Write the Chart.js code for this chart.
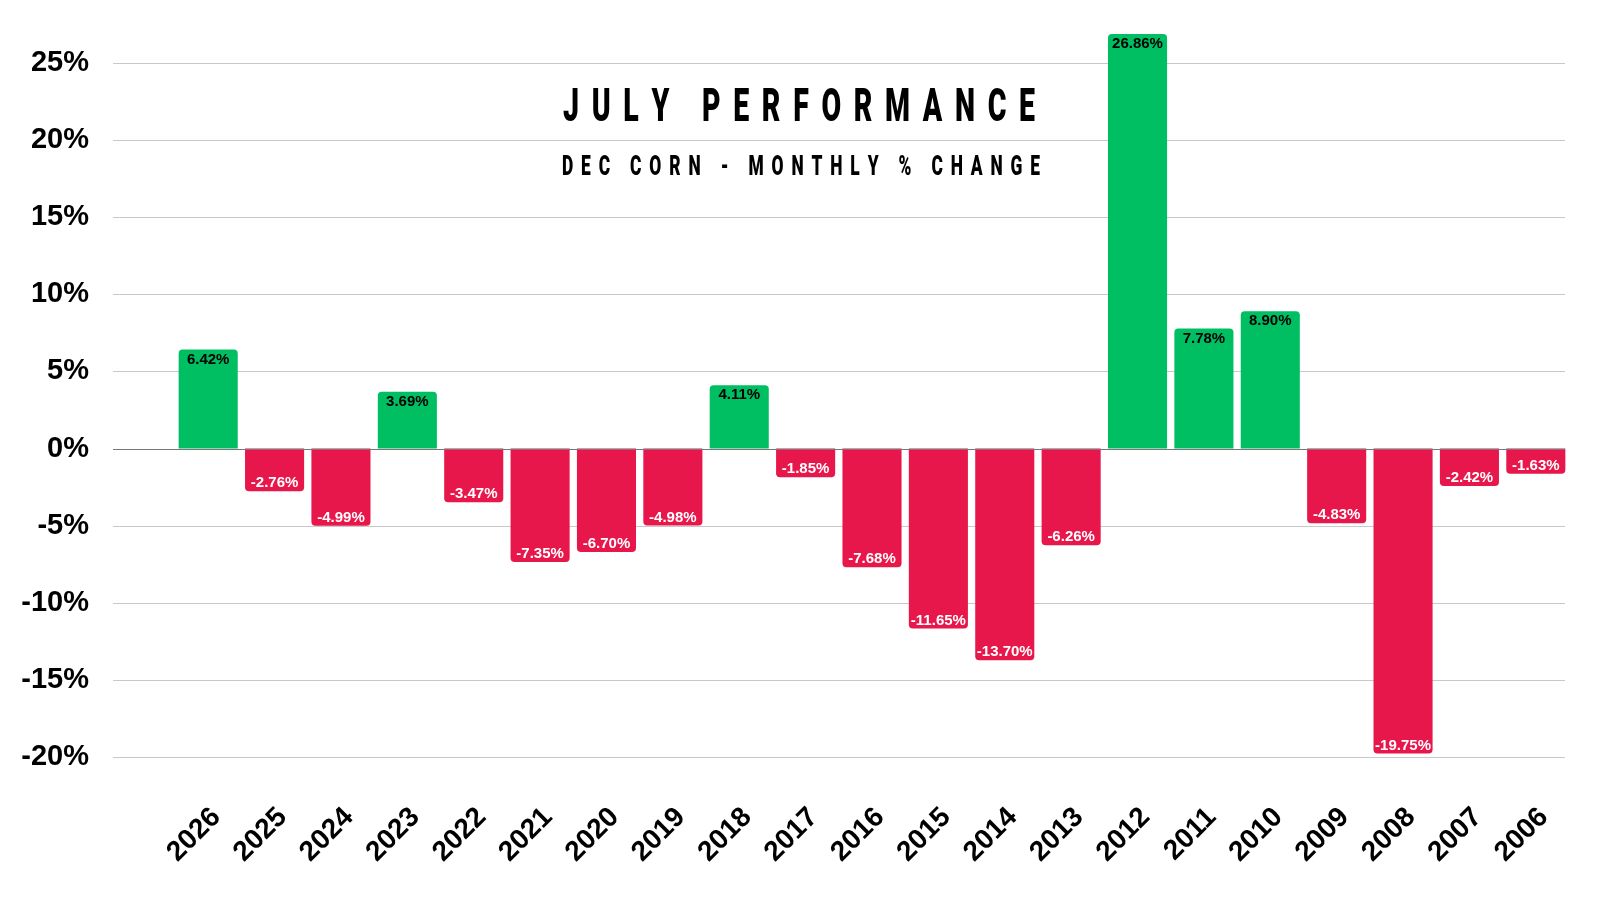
<!DOCTYPE html>
<html>
<head>
<meta charset="utf-8">
<script src="https://cdn.jsdelivr.net/npm/chart.js@4"></script>
<style>
  html, body { margin: 0; padding: 0; background: #fff; }
  #wrap { width: 1600px; height: 900px; }
</style>
</head>
<body>
<div id="wrap"><canvas id="myChart" width="1600" height="900"></canvas></div>
<script>
// July performance, Dec corn, monthly % change
const years = ['2026', '2025', '2024', '2023', '2022', '2021', '2020', '2019', '2018', '2017', '2016',
  '2015', '2014', '2013', '2012', '2011', '2010', '2009', '2008', '2007', '2006'];
const changes = [6.42, -2.76, -4.99, 3.69, -3.47, -7.35, -6.70, -4.98, 4.11, -1.85, -7.68,
  -11.65, -13.70, -6.26, 26.86, 7.78, 8.90, -4.83, -19.75, -2.42, -1.63];
const yTicks = [-20, -15, -10, -5, 0, 5, 10, 15, 20, 25];
const titleText = 'JULY PERFORMANCE';
const subtitleText = 'DEC CORN - MONTHLY % CHANGE';

const GREEN = '#00BF63';
const RED = '#E8174B';
const FONT = "'Liberation Sans', Arial, sans-serif";

const barColors = changes.map(v => v >= 0 ? GREEN : RED);

// gridlines start left of the first category, so draw them by hand
const gridPlugin = {
  id: 'grid',
  beforeDatasetsDraw(chart) {
    const ctx = chart.ctx;
    const y = chart.scales.y;
    ctx.save();
    ctx.lineWidth = 1;
    ctx.strokeStyle = '#c8c8c8';
    yTicks.forEach(v => {
      if (v === 0) return;
      const py = Math.round(y.getPixelForValue(v)) + 0.5;
      ctx.beginPath();
      ctx.moveTo(113, py);
      ctx.lineTo(chart.chartArea.right - 4, py);
      ctx.stroke();
    });
    ctx.restore();
  },
  afterDatasetsDraw(chart) {
    const ctx = chart.ctx;
    const py = Math.round(chart.scales.y.getPixelForValue(0)) + 0.5;
    ctx.save();
    ctx.lineWidth = 1;
    ctx.strokeStyle = '#777';
    ctx.beginPath();
    ctx.moveTo(113, py);
    ctx.lineTo(chart.chartArea.right - 4, py);
    ctx.stroke();
    ctx.restore();
  }
};

// value labels inside the end of each bar
const labelPlugin = {
  id: 'barLabels',
  afterDatasetsDraw(chart) {
    const ctx = chart.ctx;
    const meta = chart.getDatasetMeta(0);
    ctx.save();
    ctx.font = 'bold 15px ' + FONT;
    ctx.textAlign = 'center';
    ctx.textBaseline = 'middle';
    meta.data.forEach((bar, i) => {
      const v = changes[i];
      const txt = v.toFixed(2) + '%';
      if (v >= 0) {
        ctx.fillStyle = '#000';
        ctx.fillText(txt, bar.x, bar.y + 10);
      } else {
        ctx.fillStyle = '#fff';
        ctx.fillText(txt, bar.x, bar.y - 8);
      }
    });
    ctx.restore();
  }
};

// condensed, widely spaced heading (no condensed font installed, so squeeze it)
function spacedText(ctx, txt, cx, cy, width, squeeze) {
  const chars = txt.split('');
  const widths = chars.map(c => ctx.measureText(c).width * squeeze);
  const used = widths.reduce((a, b) => a + b, 0);
  const gap = (width - used) / (chars.length - 1);
  let x = cx - width / 2;
  chars.forEach((c, i) => {
    ctx.save();
    ctx.translate(x, cy);
    ctx.scale(squeeze, 1);
    ctx.fillText(c, 0, 0);
    ctx.restore();
    x += widths[i] + gap;
  });
}

const titlePlugin = {
  id: 'spacedTitle',
  afterDraw(chart) {
    const ctx = chart.ctx;
    ctx.save();
    ctx.fillStyle = '#000';
    ctx.textBaseline = 'middle';
    ctx.textAlign = 'left';
    ctx.font = '900 46px Roboto, ' + FONT;
    spacedText(ctx, titleText, 799, 109, 472, 0.62);
    ctx.font = '900 28px Roboto, ' + FONT;
    spacedText(ctx, subtitleText, 801, 168, 478, 0.62);
    ctx.restore();
  }
};

const ctx = document.getElementById('myChart').getContext('2d');
const myChart = new Chart(ctx, {
  type: 'bar',
  data: {
    labels: years,
    datasets: [{
      label: '',
      data: changes,
      backgroundColor: barColors,
      borderRadius: 4,
      borderSkipped: 'start',
      categoryPercentage: 1,
      barPercentage: 0.89
    }]
  },
  options: {
    responsive: false,
    animation: false,
    layout: {
      padding: { top: 24, right: 31, left: 0, bottom: 0 }
    },
    plugins: {
      legend: { display: false },
      tooltip: { enabled: false }
    },
    scales: {
      x: {
        grid: { display: false },
        border: { display: false },
        afterFit(scale) { scale.height = 104; },
        ticks: {
          minRotation: 45,
          maxRotation: 45,
          color: '#000',
          padding: -3,
          labelOffset: 8,
          font: { family: FONT, size: 28, weight: 'bold' }
        }
      },
      y: {
        min: -22.5,
        max: 27.5,
        grid: { display: false },
        border: { display: false },
        afterBuildTicks(scale) {
          scale.ticks = yTicks.map(v => ({ value: v }));
        },
        afterFit(scale) {
          scale.width = 175;
          scale.paddingTop = 0;
          scale.paddingBottom = 0;
        },
        ticks: {
          color: '#000',
          padding: 78,
          font: { family: FONT, size: 29, weight: 'bold' },
          callback: v => v + '%'
        }
      }
    }
  },
  plugins: [gridPlugin, labelPlugin, titlePlugin]
});
</script>
</body>
</html>
